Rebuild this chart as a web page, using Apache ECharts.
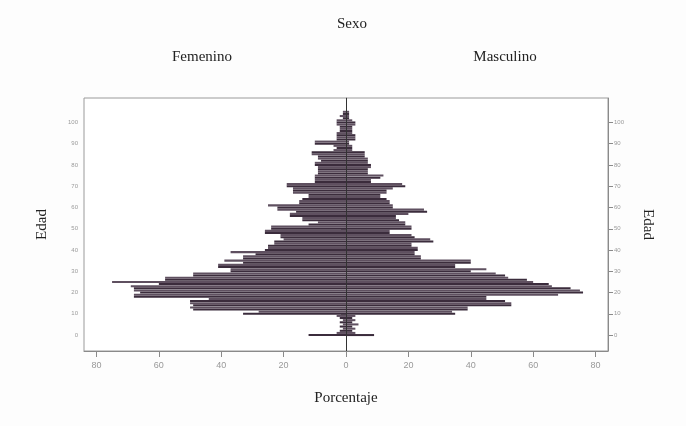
<!DOCTYPE html>
<html>
<head>
<meta charset="utf-8">
<script src="https://cdn.jsdelivr.net/npm/echarts@6/dist/echarts.min.js"></script>
<style>
  html, body { margin: 0; padding: 0; background: #fdfdfd; }
  #chart { width: 686px; height: 426px; }
</style>
</head>
<body>
<div id="chart"></div>
<script>
// edades 0..105, una barra por edad
var ages = [];
for (var a = 0; a <= 105; a++) ages.push(a);

var femenino = [
  12, 3, 2, 1, 2, 1, 2, 1, 2, 3,
  33, 28, 49, 50, 49, 50, 50, 44, 68, 68,
  66, 68, 68, 69, 60, 75, 58, 58, 49, 49,
  37, 37, 41, 41, 33, 39, 33, 33, 29, 37,
  26, 25, 25, 23, 23, 20, 21, 21, 26, 26,
  24, 24, 12, 9, 14, 14, 18, 18, 16, 22,
  22, 25, 15, 15, 14, 12, 12, 17, 17, 17,
  19, 19, 10, 10, 10, 10, 9, 9, 9, 9,
  10, 10, 8, 9, 9, 11, 11, 4, 3, 4,
  10, 10, 3, 3, 3, 3, 2, 2, 2, 3,
  3, 3, 1, 2, 1, 1
];
var masculino = [
  9, 3, 2, 3, 2, 4, 2, 3, 2, 3,
  35, 34, 39, 39, 53, 53, 51, 45, 45, 68,
  76, 75, 72, 66, 65, 60, 58, 52, 51, 48,
  40, 45, 35, 35, 40, 40, 24, 24, 22, 22,
  23, 23, 21, 21, 28, 27, 22, 21, 14, 14,
  21, 21, 19, 19, 17, 16, 16, 20, 26, 25,
  15, 15, 14, 14, 13, 11, 11, 13, 13, 15,
  19, 18, 8, 8, 11, 12, 7, 7, 7, 8,
  8, 7, 7, 7, 6, 6, 6, 2, 2, 2,
  1, 1, 3, 3, 3, 2, 2, 2, 2, 3,
  3, 2, 1, 1, 1, 1
];

var xTicks = [-80, -60, -40, -20, 0, 20, 40, 60, 80];
var yTicks = [0, 10, 20, 30, 40, 50, 60, 70, 80, 90, 100];
var yRange = [-7, 111];

var chart = echarts.init(document.getElementById('chart'));

var cats = [];
for (var c = yRange[0]; c <= yRange[1]; c++) cats.push(String(c));

function isTick(idx, val) {
  return yTicks.indexOf(Number(val)) >= 0;
}

function barColor(p) {
  return p.dataIndex % 2 ? '#5f5060' : '#3b2c3c';
}

var serif = 'Liberation Serif';

var yBase = {
  type: 'category',
  data: cats,
  boundaryGap: true,
  axisLine: { show: true, lineStyle: { color: '#8a8a8a' } },
  axisTick: { show: true, interval: isTick, alignWithLabel: true, length: 5, lineStyle: { color: '#8a8a8a' } },
  axisLabel: { show: true, interval: isTick, fontSize: 6, color: '#9a9a9a', margin: 6 },
  splitLine: { show: false },
  name: 'Edad',
  nameLocation: 'middle',
  nameTextStyle: { fontFamily: serif, fontSize: 15, color: '#222' }
};

var option = {
  backgroundColor: '#fdfdfd',
  animation: false,
  title: [
    { text: 'Sexo', left: 347, top: 12, textAlign: 'center',
      textStyle: { fontFamily: serif, fontSize: 15, fontWeight: 'normal', color: '#222' } },
    { text: 'Femenino', left: 197, top: 45, textAlign: 'center',
      textStyle: { fontFamily: serif, fontSize: 15, fontWeight: 'normal', color: '#222' } },
    { text: 'Masculino', left: 500, top: 45, textAlign: 'center',
      textStyle: { fontFamily: serif, fontSize: 15, fontWeight: 'normal', color: '#222' } }
  ],
  grid: {
    left: 84, right: 78, top: 98, bottom: 75,
    show: true, borderColor: '#9a9a9a', borderWidth: 1, backgroundColor: '#ffffff'
  },
  xAxis: {
    type: 'value',
    min: -84, max: 84,
    axisLine: { show: true, lineStyle: { color: '#8a8a8a' } },
    axisTick: { show: true, customValues: xTicks, length: 6, lineStyle: { color: '#8a8a8a' } },
    axisLabel: { customValues: xTicks, fontSize: 9, color: '#999', margin: 10,
      formatter: function (v) { return Math.abs(v); } },
    splitLine: { show: false },
    name: 'Porcentaje',
    nameLocation: 'middle',
    nameGap: 40,
    nameTextStyle: { fontFamily: serif, fontSize: 15, color: '#222' }
  },
  yAxis: [
    echarts.util.merge({ position: 'left', nameGap: 34, nameRotate: 90 }, yBase, true),
    echarts.util.merge({ position: 'right', nameGap: 32, nameRotate: -90 }, yBase, true)
  ],
  series: [
    {
      name: 'Femenino',
      type: 'bar',
      stack: 'total',
      yAxisIndex: 0,
      barCategoryGap: '4%',
      itemStyle: { color: barColor },
      data: ages.map(function (a, i) { return [-femenino[i], String(a)]; })
    },
    {
      name: 'Masculino',
      type: 'bar',
      stack: 'total',
      yAxisIndex: 0,
      barCategoryGap: '4%',
      itemStyle: { color: barColor },
      data: ages.map(function (a, i) { return [masculino[i], String(a)]; }),
      markLine: {
        silent: true,
        symbol: 'none',
        label: { show: false },
        lineStyle: { color: '#333', width: 1, type: 'solid' },
        data: [{ xAxis: 0 }]
      }
    }
  ]
};

chart.setOption(option);
</script>
</body>
</html>
